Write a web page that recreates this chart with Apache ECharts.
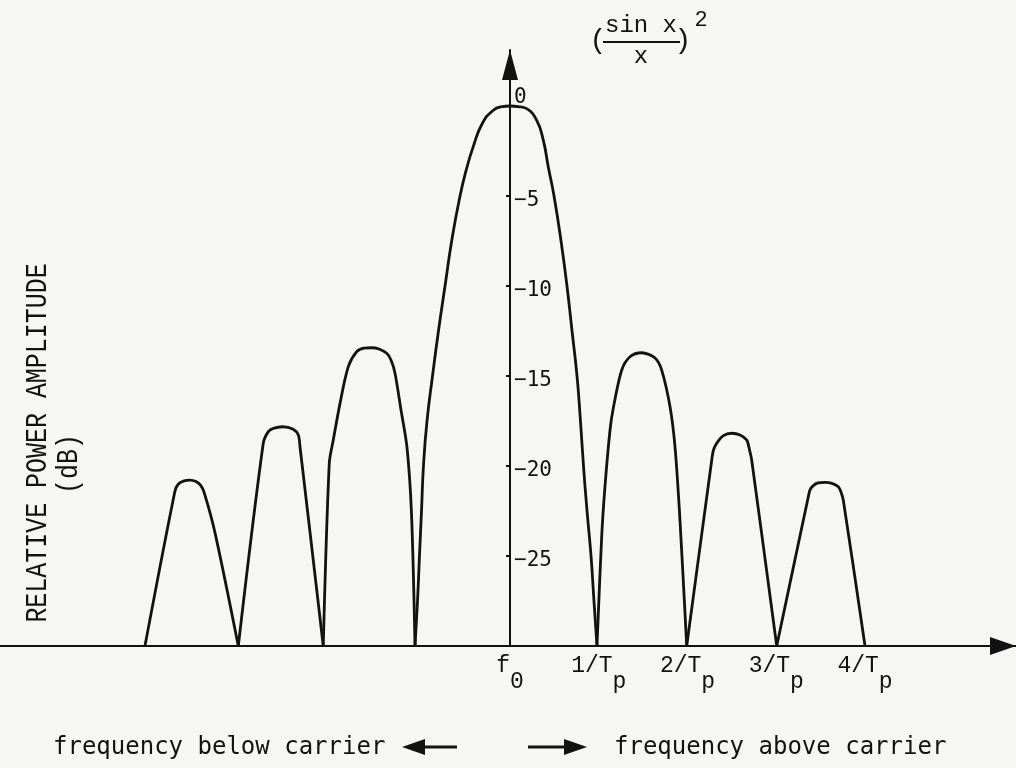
<!DOCTYPE html>
<html>
<head>
<meta charset="utf-8">
<script src="https://cdn.jsdelivr.net/npm/echarts@6/dist/echarts.min.js"></script>
<style>
html,body{margin:0;padding:0;background:#f6f6f4;}
#chart{width:1016px;height:768px;}
</style>
</head>
<body>
<div id="chart"></div>
<script>
// ---- tick labels ----
const xTickValues = [0, 1, 2, 3, 4];
const xTickMain = ['f', '1/T', '2/T', '3/T', '4/T'];
const xTickSub = ['0', 'p', 'p', 'p', 'p'];
const yTickValues = [0, -5, -10, -15, -20, -25];

// ---- curve data: [frequency offset (units of 1/Tp), relative power (dB)] ----
const lobeL4 = [[-4.113,-30],[-3.775,-21.4],[-3.736,-21.0],[-3.673,-20.83],[-3.606,-20.78],[-3.538,-20.86],[-3.487,-21.06],[-3.448,-21.44],[-3.324,-23.7],[-3.061,-30]];
const lobeL3 = [[-3.061,-30],[-2.780,-18.74],[-2.723,-18.09],[-2.667,-17.91],[-2.561,-17.82],[-2.442,-17.96],[-2.385,-18.28],[-2.366,-18.93],[-2.104,-30]];
const lobeL2 = [[-2.104,-30],[-2.036,-19.85],[-1.991,-18.56],[-1.915,-16.52],[-1.822,-14.48],[-1.727,-13.65],[-1.645,-13.45],[-1.558,-13.43],[-1.476,-13.5],[-1.389,-13.74],[-1.341,-14.11],[-1.296,-14.83],[-1.228,-16.89],[-1.161,-18.94],[-1.110,-22.61],[-1.070,-30]];
const mainLobe = [[-1.070,-30],[-1.042,-27.5],[-1.020,-25],[-0.997,-22.5],[-0.975,-20],[-0.935,-17.5],[-0.873,-15],[-0.806,-12.5],[-0.732,-10],[-0.654,-7.4],[-0.563,-5],[-0.49,-3.5],[-0.417,-2.3],[-0.315,-1.0],[-0.192,-0.25],[-0.09,-0.04],[0,0],[0.09,-0.03],[0.188,-0.15],[0.301,-0.8],[0.375,-1.9],[0.432,-3.4],[0.496,-5],[0.575,-7.5],[0.642,-10],[0.699,-12.5],[0.755,-15],[0.794,-17.5],[0.828,-20],[0.868,-22.5],[0.913,-25],[0.946,-27.5],[0.980,-30]];
const lobeR1 = [[0.980,-30],[1.033,-23.93],[1.070,-21.15],[1.127,-18.0],[1.164,-16.78],[1.259,-14.67],[1.352,-13.93],[1.484,-13.71],[1.634,-14.0],[1.709,-14.67],[1.803,-16.71],[1.859,-18.93],[1.915,-23.0],[1.991,-30]];
const lobeR2 = [[1.991,-30],[2.273,-19.67],[2.293,-19.11],[2.329,-18.74],[2.400,-18.33],[2.498,-18.18],[2.592,-18.28],[2.667,-18.56],[2.699,-19.11],[2.723,-19.67],[3.005,-30]];
const lobeR3 = [[3.005,-30],[3.361,-21.71],[3.380,-21.33],[3.417,-21.09],[3.470,-20.94],[3.549,-20.91],[3.628,-20.97],[3.699,-21.15],[3.729,-21.44],[3.755,-21.89],[4.0,-30]];

const lobes = [lobeL4, lobeL3, lobeL2, mainLobe, lobeR1, lobeR2, lobeR3];

const INK = '#121212';
const MONO = '"Liberation Mono", "DejaVu Sans Mono", monospace';
const SANSMONO = '"DejaVu Sans Mono", "Liberation Mono", monospace';

const chart = echarts.init(document.getElementById('chart'), null, {renderer: 'canvas'});

const option = {
  backgroundColor: '#f6f6f4',
  animation: false,
  grid: {left: 0, right: 0, top: 50, bottom: 122, containLabel: false},
  xAxis: {
    type: 'value',
    min: -5.746,
    max: 5.701,
    splitLine: {show: false},
    axisTick: {show: false},
    axisLine: {
      onZero: false,
      symbol: ['none', 'triangle'],
      symbolSize: [18, 26],
      symbolOffset: [0, -13],
      lineStyle: {color: INK, width: 2}
    },
    axisLabel: {
      customValues: xTickValues,
      margin: 16,
      formatter: function (v) {
        const i = xTickValues.indexOf(v);
        if (i < 0) return '';
        return '{a|' + xTickMain[i] + '}{s|' + xTickSub[i] + '}';
      },
      rich: {
        a: {fontFamily: MONO, fontSize: 23, lineHeight: 24, color: INK, padding: [0, 0, 16, 0]},
        s: {fontFamily: MONO, fontSize: 23, lineHeight: 24, color: INK, padding: [16, 0, 0, 0]}
      }
    }
  },
  yAxis: {
    type: 'value',
    min: -30,
    max: 3.11,
    offset: -510,
    splitLine: {show: false},
    axisLine: {
      onZero: false,
      symbol: ['none', 'triangle'],
      symbolSize: [16, 30],
      symbolOffset: [0, -15],
      lineStyle: {color: INK, width: 2}
    },
    axisTick: {
      show: true,
      customValues: yTickValues.filter(v => v !== 0),
      length: 4,
      inside: false,
      lineStyle: {color: INK, width: 2}
    },
    axisLabel: {
      customValues: yTickValues,
      inside: true,
      margin: 4,
      formatter: function (v) {
        if (v === 0) return '{z|0}';
        return '{n|' + String(v).replace('-', '\u2212') + '}';
      },
      rich: {
        n: {fontFamily: SANSMONO, fontSize: 21, color: INK, padding: [10, 0, 0, 0]},
        z: {fontFamily: SANSMONO, fontSize: 21, color: INK, padding: [0, 0, 16, 0]}
      }
    }
  },
  series: lobes.map(function (d, i) {
    return {
      type: 'line',
      data: d,
      smooth: i === 3 ? 0.5 : 0.3,
      symbol: 'none',
      silent: true,
      lineStyle: {color: INK, width: 2.8},
      z: 3
    };
  }),
  graphic: [
    // y-axis title
    {type: 'text', x: 38, y: 443, rotation: Math.PI / 2, scaleX: 0.86,
     style: {text: 'RELATIVE POWER AMPLITUDE', font: '29px ' + MONO, fill: INK, align: 'center', verticalAlign: 'middle'}},
    {type: 'text', x: 69, y: 464, rotation: Math.PI / 2, scaleX: 0.86,
     style: {text: '(dB)', font: '29px ' + MONO, fill: INK, align: 'center', verticalAlign: 'middle'}},
    // formula (sin x / x)^2
    {type: 'text', x: 598, y: 41, style: {text: '(', font: '28px ' + MONO, fill: INK, align: 'center', verticalAlign: 'middle'}},
    {type: 'text', x: 641, y: 26, style: {text: 'sin x', font: '24px ' + MONO, fill: INK, align: 'center', verticalAlign: 'middle'}},
    {type: 'line', shape: {x1: 603, y1: 42, x2: 680, y2: 42}, style: {stroke: INK, lineWidth: 2}},
    {type: 'text', x: 641, y: 57, style: {text: 'x', font: '24px ' + MONO, fill: INK, align: 'center', verticalAlign: 'middle'}},
    {type: 'text', x: 683, y: 41, style: {text: ')', font: '28px ' + MONO, fill: INK, align: 'center', verticalAlign: 'middle'}},
    {type: 'text', x: 701, y: 20, style: {text: '2', font: '22px ' + MONO, fill: INK, align: 'center', verticalAlign: 'middle'}},
    // bottom captions
    {type: 'text', x: 53, y: 748, style: {text: 'frequency below carrier', font: '24px ' + SANSMONO, fill: INK, align: 'left', verticalAlign: 'middle'}},
    {type: 'text', x: 614, y: 748, style: {text: 'frequency above carrier', font: '24px ' + SANSMONO, fill: INK, align: 'left', verticalAlign: 'middle'}},
    {type: 'line', shape: {x1: 420, y1: 747, x2: 457, y2: 747}, style: {stroke: INK, lineWidth: 3}},
    {type: 'polygon', shape: {points: [[402, 747], [425, 739], [425, 755]]}, style: {fill: INK}},
    {type: 'line', shape: {x1: 528, y1: 747, x2: 570, y2: 747}, style: {stroke: INK, lineWidth: 3}},
    {type: 'polygon', shape: {points: [[587, 747], [564, 739], [564, 755]]}, style: {fill: INK}}
  ]
};
chart.setOption(option);
</script>
</body>
</html>
